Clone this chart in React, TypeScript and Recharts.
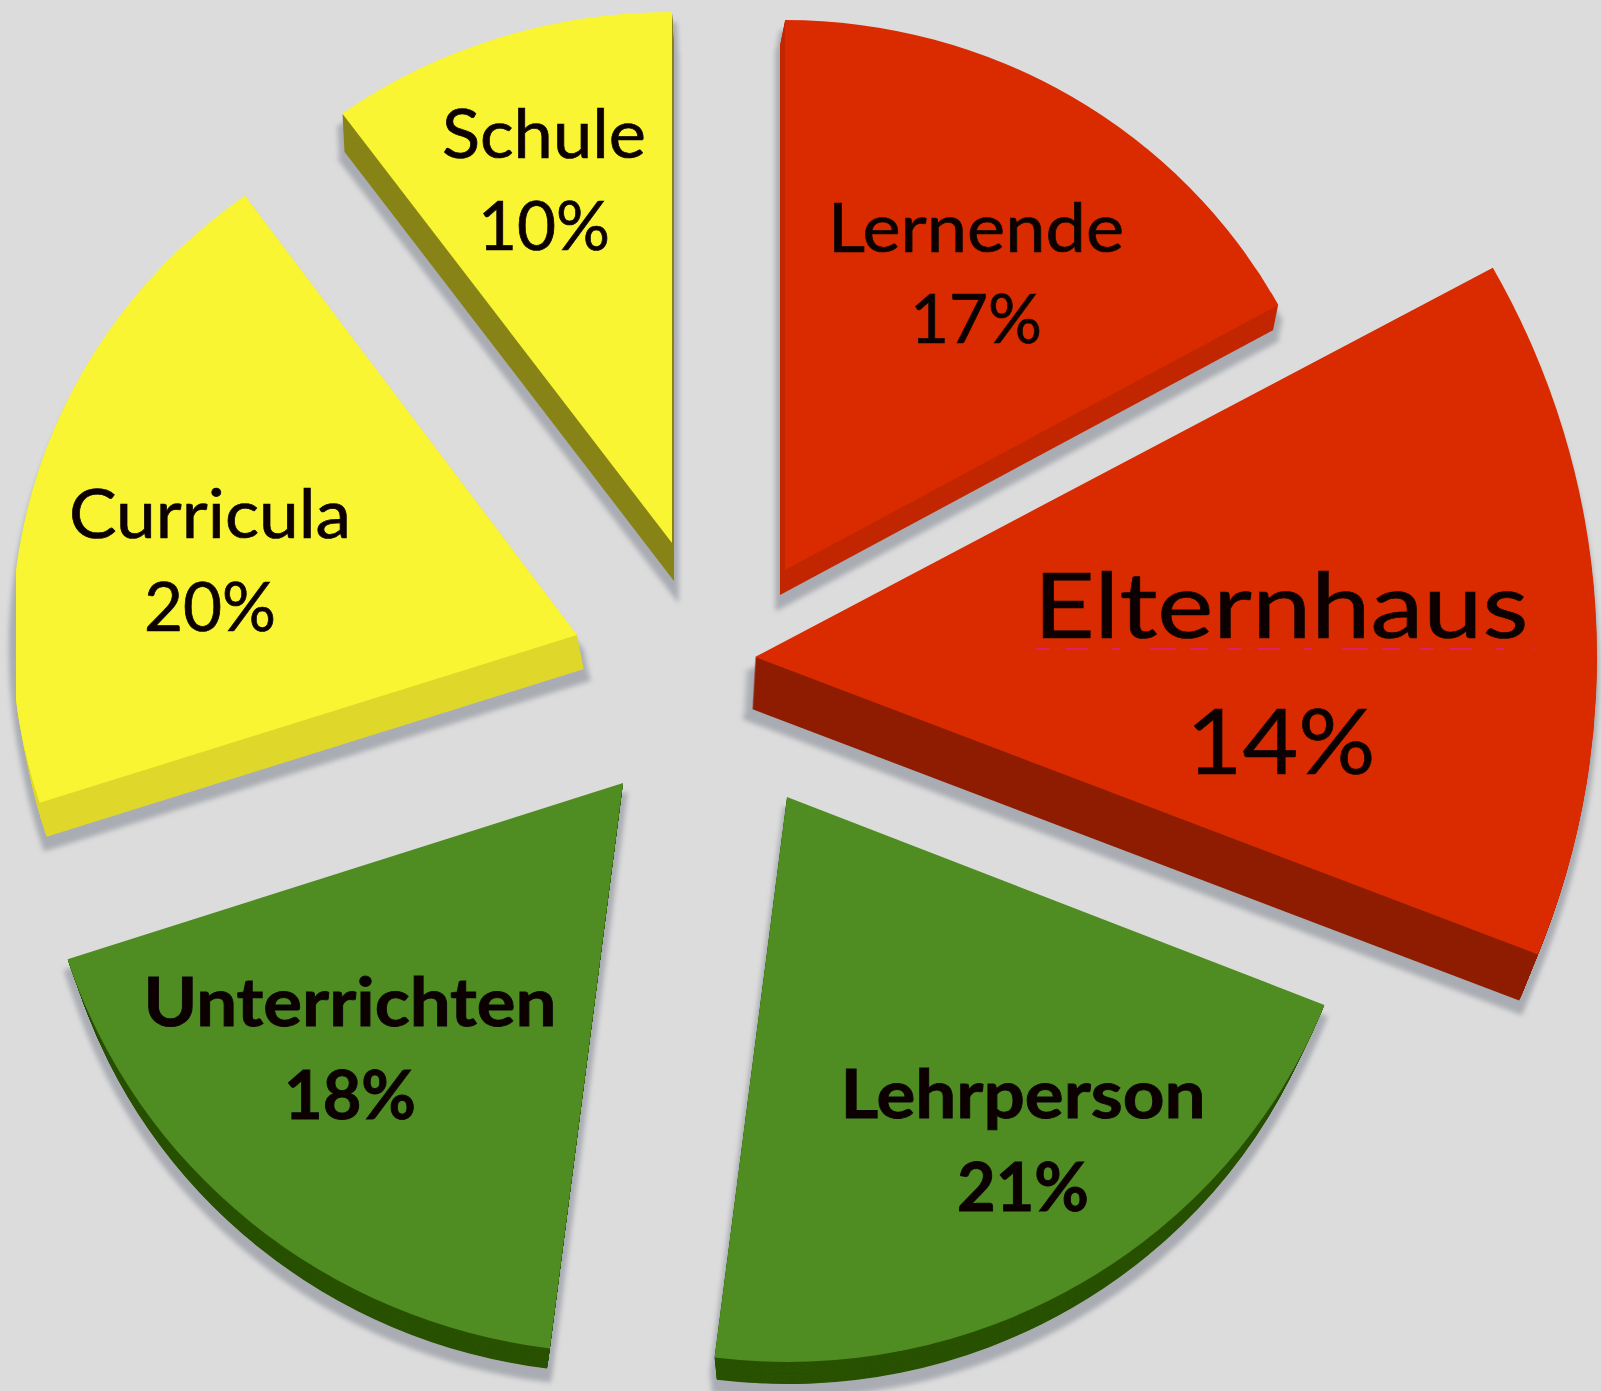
import React from "react";
import { PieChart, Pie, Sector } from "recharts";

// Data
const categories = ["Lernende", "Elternhaus", "Lehrperson", "Unterrichten", "Curricula", "Schule"];
const shares = [17, 14, 21, 18, 20, 10];
const tableRows = categories.map((name, i) => ({ name, value: shares[i] }));

// Colours
const faceColors = ["#d92c00", "#d92c00", "#4f8c22", "#4f8c22", "#faf530", "#faf530"];
const sideColors = ["#c22800", "#8f1e00", "#2a5200", "#2a5200", "#dfd82b", "#88841a"];
const BG = "#dcdcdc";

// Layout: explosion of each slice from the common centre, its stretch and its depth
const WIDTH = 1601;
const HEIGHT = 1391;
const CX = 720;
const CY = 660;
const BASE_R = 550;
const explodeX = [65, 35, 67, -97, -143, -48];
const explodeY = [-90, -3, 137, 123, -25, -117];
const radiusX = [563, 842, 578, 584, 565, 561];
const radiusY = [550, 808, 565, 570, 543, 531];
const depthX = [-5, -3, 0, -5, 7, 2];
const depthY = [25, 52, 39, 37, 34, 38];
const sideShrink = [1, 0.98, 0.97, 0.97, 1, 1];
const CURRICULA_LEFT_EDGE = 16;

// Labels: centre and baselines per slice
const labelX = [976, 1281, 1023, 350, 210, 544];
const nameBase = [252, 638, 1118, 1026, 538, 158];
const pctBase = [343, 774, 1211, 1119, 631, 250];
const fontSizes = [67, 92, 67, 67, 67, 67];
const fontWeights = [400, 400, 700, 700, 400, 400];
const nameWidths = [296, 495, 365, 413, 282, 204];
const pctWidths = [132, 189, 132, 132, 132, 132];

const SliceShape = (props: any) => {
  const { cx, cy, outerRadius, startAngle, endAngle, name } = props;
  const i = categories.indexOf(name);
  const affine = (ox: number, oy: number, s = 1) =>
    `translate(${cx + explodeX[i] + ox} ${cy + explodeY[i] + oy}) scale(${(s * radiusX[i]) / outerRadius} ${(s * radiusY[i]) / outerRadius}) translate(${-cx} ${-cy})`;
  const sector = (fill: string, extra: any = {}) => (
    <Sector cx={cx} cy={cy} innerRadius={0} outerRadius={outerRadius} startAngle={startAngle} endAngle={endAngle} fill={fill} stroke="none" {...extra} />
  );
  const n = Math.max(Math.abs(depthX[i]), Math.abs(depthY[i]));
  const steps = Array.from({ length: n }, (_, k) => n - k);
  const at = (k: number, extraY = 0) =>
    affine((depthX[i] * k) / n, (depthY[i] * k) / n + extraY, 1 - ((1 - sideShrink[i]) * k) / n);
  const shadowId = `shadow-${i}`;
  const softId = `soft-${i}`;
  const clipId = `clip-${i}`;
  const region = { filterUnits: "userSpaceOnUse" as const, x: 0, y: 0, width: WIDTH, height: HEIGHT };
  const clipLeft = name === "Curricula" ? CURRICULA_LEFT_EDGE : 0;
  return (
    <g>
      <defs>
        <filter id={shadowId} {...region}>
          <feGaussianBlur stdDeviation={2.5} />
        </filter>
        <filter id={softId} {...region}>
          <feGaussianBlur stdDeviation={0.7} />
        </filter>
        <clipPath id={clipId}>
          <rect x={clipLeft} y={0} width={WIDTH - clipLeft} height={HEIGHT} />
        </clipPath>
      </defs>
      <g filter={`url(#${shadowId})`}>
        {steps.filter((k) => k % 6 === 0 || k === n).map((k) => (
          <g key={k} transform={at(k, 9)}>
            {sector("#a9acb2", { stroke: "#a9acb2", strokeWidth: 9, vectorEffect: "non-scaling-stroke" })}
          </g>
        ))}
      </g>
      <g filter={`url(#${softId})`}>
        <g clipPath={`url(#${clipId})`}>
          {steps.map((k) => (
            <g key={k} transform={at(k)}>
              {sector(sideColors[i])}
            </g>
          ))}
          <g transform={affine(0, 0)}>{sector(faceColors[i])}</g>
        </g>
        {name === "Elternhaus" && (
          <line x1={1036} y1={649} x2={1535} y2={649} stroke="#e3208f" strokeWidth={2} strokeOpacity={0.7} strokeDasharray="14 16 22 24 8 30 26 14 18 20" />
        )}
        <g fontFamily="Lato, 'Open Sans', sans-serif" fill="#0a0606" stroke="#0a0606" strokeWidth={fontWeights[i] === 400 ? 0.7 : 0.9} fontSize={fontSizes[i]} fontWeight={fontWeights[i]} textAnchor="middle">
          <text x={labelX[i]} y={nameBase[i]} textLength={nameWidths[i]} lengthAdjust="spacingAndGlyphs">{name}</text>
          <text x={labelX[i]} y={pctBase[i]} textLength={pctWidths[i]} lengthAdjust="spacingAndGlyphs">{`${shares[i]}%`}</text>
        </g>
      </g>
    </g>
  );
};

export default function App() {
  return (
    <div style={{ position: "absolute", left: 0, top: 0, width: WIDTH, height: HEIGHT, background: BG, overflow: "hidden" }}>
      <PieChart width={WIDTH} height={HEIGHT} margin={{ top: 0, right: 0, bottom: 0, left: 0 }}>
        <Pie
          data={tableRows}
          dataKey="value"
          nameKey="name"
          cx={CX}
          cy={CY}
          innerRadius={0}
          outerRadius={BASE_R}
          startAngle={90}
          endAngle={-270}
          stroke="none"
          isAnimationActive={false}
          shape={SliceShape}
        />
      </PieChart>
    </div>
  );
}
